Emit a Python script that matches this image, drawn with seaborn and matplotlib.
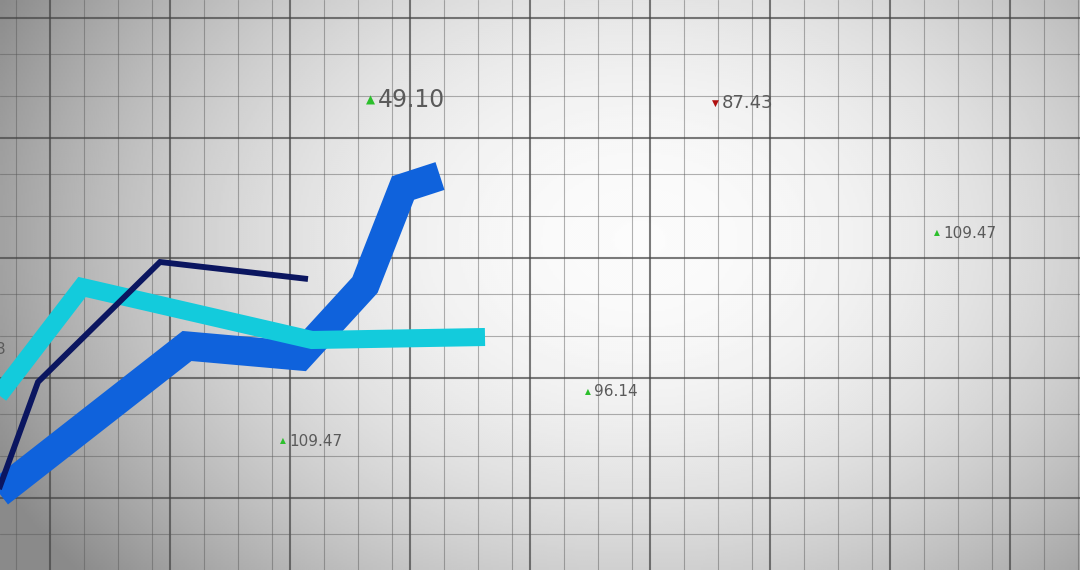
import numpy as np
import matplotlib
matplotlib.use("Agg")
import matplotlib.pyplot as plt
import pandas as pd
import seaborn as sns

# series (x = time step, y = level, screen-like units)
blue_x = [-10, 187, 300, 365, 403, 440]
blue_y = [500, 346, 356, 285, 188, 176]
cyan_x = [-20, 82, 312, 485]
cyan_y = [420, 287, 340, 337]
navy_x = [-5, 38, 160, 308]
navy_y = [500, 382, 262, 279]

# ticker labels floating on the grid
tick_text = ["49.10", "87.43", "109.47", "96.14", "109.47", "3"]
tick_x = [378, 722, 943, 594, 289, -4]
tick_y = [100, 103, 233, 392, 441, 350]
tick_up = [True, False, True, True, True, None]
tick_size = [17, 13, 11, 11, 11, 11]

W, H = 1080, 570

sns.set_style("white")
plt.rcParams['font.family'] = ['DejaVu Sans']

fig = plt.figure(figsize=(W / 100, H / 100), dpi=100)
ax = fig.add_axes([0, 0, 1, 1])

# radial grey vignette background
gx, gy = np.meshgrid(np.linspace(0, W, 540), np.linspace(0, H, 285))
r = np.sqrt(((gx - 640) / 700) ** 2 + ((gy - 240) / 520) ** 2)
shade = np.clip(0.985 - 0.42 * r ** 2, 0.54, 0.985)
ax.imshow(shade, cmap="gray", vmin=0, vmax=1, extent=[0, W, H, 0],
          aspect="auto", zorder=0, interpolation="bilinear")

# grid: heavy every 120, light in between
for v in np.arange(50, W, 120):
    ax.axvline(v, color="#444444", lw=1.5, alpha=0.7, zorder=1)
    for k in (34, 68, 102):
        ax.axvline(v + k, color="#555555", lw=0.8, alpha=0.45, zorder=1)
ax.axvline(16, color="#555555", lw=0.8, alpha=0.45, zorder=1)
for h in np.arange(18, H, 120):
    ax.axhline(h, color="#444444", lw=1.5, alpha=0.7, zorder=1)
    for k in (36, 78):
        ax.axhline(h + k, color="#555555", lw=0.8, alpha=0.45, zorder=1)

lines = pd.concat([
    pd.DataFrame({"x": blue_x, "y": blue_y, "s": "blue"}),
    pd.DataFrame({"x": cyan_x, "y": cyan_y, "s": "cyan"}),
    pd.DataFrame({"x": navy_x, "y": navy_y, "s": "navy"}),
])
styles = {"blue": ("#0f62dc", 21), "cyan": ("#13cbdc", 13), "navy": ("#0b1660", 4.2)}
for name in ["blue", "cyan", "navy"]:
    d = lines[lines.s == name]
    col, lw = styles[name]
    sns.lineplot(data=d, x="x", y="y", sort=False, estimator=None, ax=ax,
                 color=col, lw=lw, zorder=3,
                 solid_joinstyle="miter", solid_capstyle="butt")

for t, x, y, up, fs in zip(tick_text, tick_x, tick_y, tick_up, tick_size):
    if up is not None:
        ax.text(x - 3, y, "▲" if up else "▼", color="#2cbf2c" if up else "#b01010",
                fontsize=fs * 0.5, ha="right", va="center", zorder=4)
    ax.text(x, y, t, color="#5a5a5a", fontsize=fs, ha="left", va="center",
            zorder=4)

ax.set_xlim(0, W)
ax.set_ylim(H, 0)
ax.axis("off")
fig.savefig("out.png", dpi=100)
